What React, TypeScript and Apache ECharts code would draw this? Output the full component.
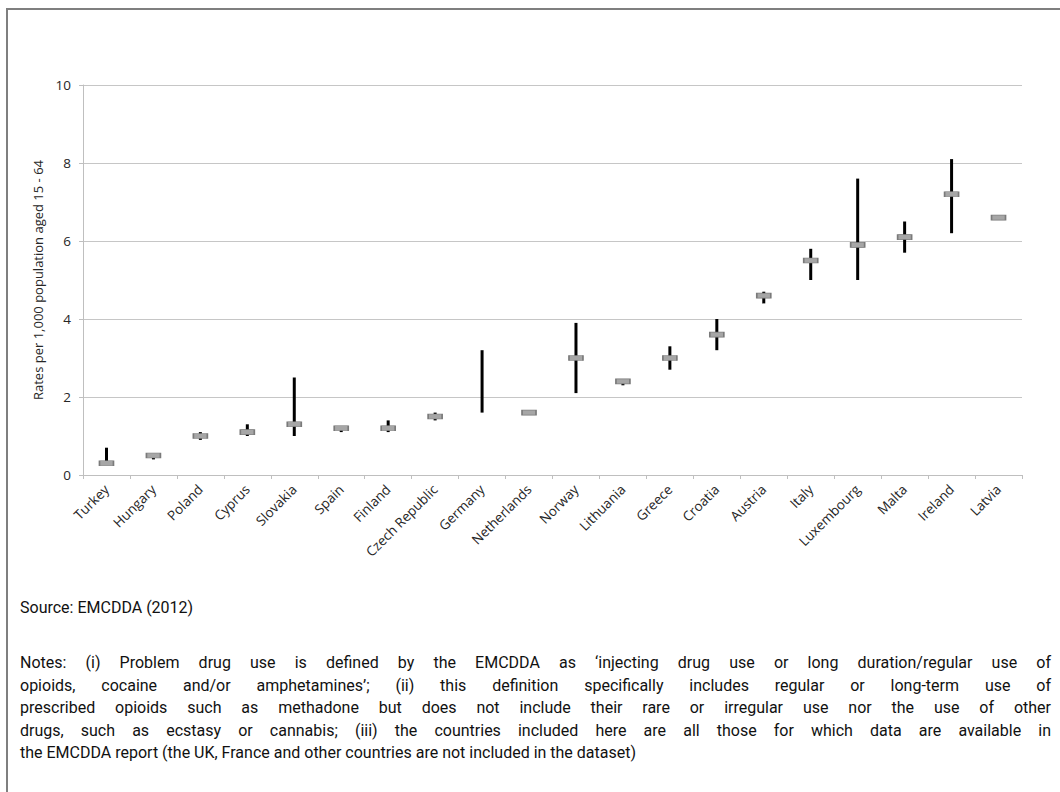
import React, { useEffect, useRef } from "react";
import * as echarts from "echarts";

const countries = [
  "Turkey", "Hungary", "Poland", "Cyprus", "Slovakia", "Spain", "Finland",
  "Czech Republic", "Germany", "Netherlands", "Norway", "Lithuania", "Greece",
  "Croatia", "Austria", "Italy", "Luxembourg", "Malta", "Ireland", "Latvia",
];
// central estimate (grey marker)
const central: (number | null)[] = [
  0.3, 0.5, 1.0, 1.1, 1.3, 1.2, 1.2, 1.5, null, 1.6, 3.0, 2.4, 3.0, 3.6, 4.6, 5.5, 5.9, 6.1, 7.2, 6.6,
];
// range low / high (black bar)
const low: (number | null)[] = [
  0.3, 0.4, 0.9, 1.0, 1.0, 1.1, 1.1, 1.4, 1.6, null, 2.1, 2.3, 2.7, 3.2, 4.4, 5.0, 5.0, 5.7, 6.2, null,
];
const high: (number | null)[] = [
  0.7, 0.5, 1.1, 1.3, 2.5, 1.2, 1.4, 1.6, 3.2, null, 3.9, 2.4, 3.3, 4.0, 4.7, 5.8, 7.6, 6.5, 8.1, null,
];
const yTicks = [0, 2, 4, 6, 8, 10];

const yTitle = "Rates per 1,000 population aged 15 - 64";
const sourceText = "Source: EMCDDA (2012)";
const noteLines = [
  "Notes: (i) Problem drug use is defined by the EMCDDA as \u2018injecting drug use or long duration/regular use of",
  "opioids, cocaine and/or amphetamines\u2019; (ii) this definition specifically includes regular or long-term use of",
  "prescribed opioids such as methadone but does not include their rare or irregular use nor the use of other",
  "drugs, such as ecstasy or cannabis; (iii) the countries included here are all those for which data are available in",
  "the EMCDDA report (the UK, France and other countries are not included in the dataset)",
];

const labelFont = "'Open Sans', 'Noto Sans', sans-serif";
const noteFont = "Roboto, 'Noto Sans', sans-serif";

export default function App() {
  const ref = useRef<HTMLDivElement>(null);

  useEffect(() => {
    if (!ref.current) return;
    const chart = echarts.init(ref.current, undefined, { renderer: "svg" });
    const rangeData = countries
      .map((_, i) => (low[i] == null || high[i] == null ? null : [i, low[i], high[i]]))
      .filter((d) => d !== null);
    const option = {
      animation: false,
      backgroundColor: "transparent",
      grid: { left: 83, top: 85, width: 939, height: 390, containLabel: false },
      xAxis: {
        type: "category",
        data: countries,
        boundaryGap: true,
        axisLine: { show: true, lineStyle: { color: "#bfbfbf", width: 1 } },
        axisTick: { show: true, length: 4, alignWithLabel: false, interval: 0, lineStyle: { color: "#bfbfbf" } },
        axisLabel: {
          interval: 0,
          rotate: 45,
          margin: 12,
          color: "#262626",
          fontSize: 13.5,
          fontFamily: labelFont,
        },
        splitLine: { show: false },
      },
      yAxis: {
        type: "value",
        min: yTicks[0],
        max: yTicks[yTicks.length - 1],
        interval: 2,
        name: yTitle,
        nameLocation: "middle",
        nameRotate: 90,
        nameGap: 33,
        nameTextStyle: { color: "#262626", fontSize: 13, fontFamily: labelFont },
        axisLine: { show: true, lineStyle: { color: "#bfbfbf", width: 1 } },
        axisTick: { show: true, length: 4, lineStyle: { color: "#bfbfbf" } },
        axisLabel: { color: "#262626", fontSize: 13.5, fontFamily: labelFont, margin: 12 },
        splitLine: { show: true, lineStyle: { color: "#c6c6c6", width: 1 } },
      },
      series: [
        {
          type: "custom",
          name: "range",
          data: rangeData,
          encode: { x: 0, y: [1, 2] },
          z: 2,
          renderItem: (params: any, api: any) => {
            const x = api.value(0);
            const p1 = api.coord([x, api.value(1)]);
            const p2 = api.coord([x, api.value(2)]);
            return {
              type: "line",
              shape: { x1: p1[0], y1: p1[1], x2: p2[0], y2: p2[1] },
              style: { stroke: "#000000", lineWidth: 3 },
            };
          },
        },
        {
          type: "scatter",
          name: "estimate",
          data: central.map((v) => (v == null ? "-" : v)),
          symbol: "rect",
          symbolSize: [14, 5],
          z: 3,
          itemStyle: { color: "#a6a6a6", borderColor: "#7a7a7a", borderWidth: 1, opacity: 1 },
        },
      ],
    };
    chart.setOption(option as any);
    return () => chart.dispose();
  }, []);

  return (
    <div
      style={{
        position: "fixed",
        left: 0,
        top: 0,
        width: 1060,
        height: 792,
        overflow: "hidden",
        background: "#ffffff",
      }}
    >
      <div
        style={{
          position: "absolute",
          left: 6,
          top: 8,
          width: 1100,
          height: 850,
          borderLeft: "2px solid #7f7f7f",
          borderTop: "2px solid #7f7f7f",
        }}
      />
      <div ref={ref} style={{ position: "absolute", left: 0, top: 0, width: 1060, height: 590 }} />
      <div
        style={{
          position: "absolute",
          left: 20,
          top: 597,
          fontFamily: noteFont,
          fontSize: 16,
          lineHeight: "22px",
          color: "#111111",
          whiteSpace: "nowrap",
        }}
      >
        {sourceText}
      </div>
      <div
        style={{
          position: "absolute",
          left: 20,
          top: 652,
          width: 1031,
          fontFamily: noteFont,
          fontSize: 16,
          lineHeight: "22.6px",
          color: "#111111",
        }}
      >
        {noteLines.map((line, i) => (
          <div
            key={i}
            style={{
              textAlign: "justify",
              textAlignLast: i < noteLines.length - 1 ? "justify" : "left",
              whiteSpace: i < noteLines.length - 1 ? "normal" : "nowrap",
            }}
          >
            {line}
          </div>
        ))}
      </div>
    </div>
  );
}
